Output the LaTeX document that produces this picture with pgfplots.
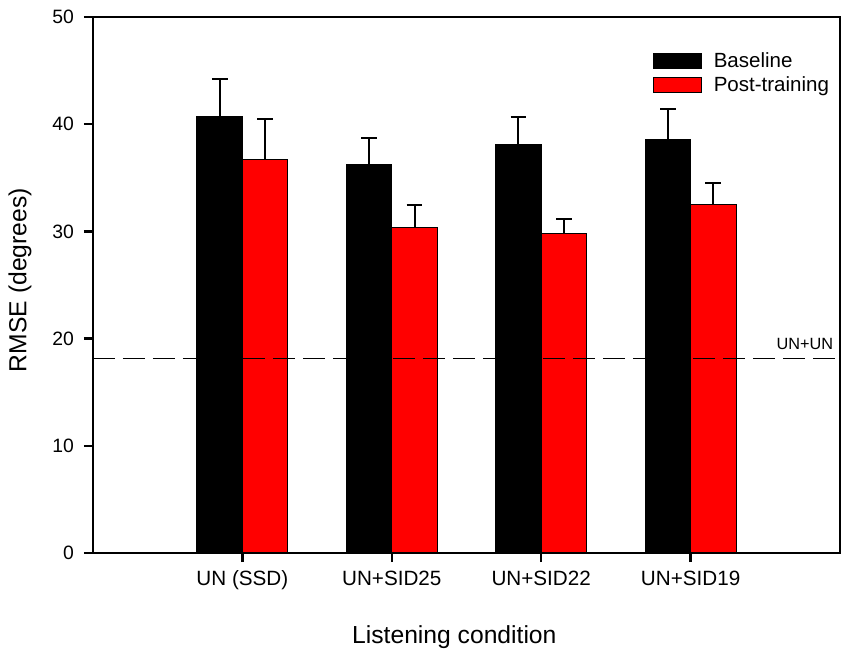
\documentclass[border=0pt]{standalone}
\usepackage{fontspec}
\setmainfont{Liberation Sans}
\usepackage{pgfplots}
\pgfplotsset{compat=1.18}
\begin{document}
\begin{tikzpicture}
\begin{axis}[
  scale only axis,
  width=560.25bp, height=402bp,
  xmin=0, xmax=5, ymin=0, ymax=50,
  clip=false,
  xtick={1,2,3,4},
  xticklabels={UN (SSD),UN+SID25,UN+SID22,UN+SID19},
  ytick={0,10,20,30,40,50},
  tick pos=left,
  tick align=outside,
  major tick length=6.75bp,
  minor tick num=0,
  every tick/.style={line width=1.8bp, black},
  /pgf/number format/assume math mode=true,
  yticklabel style={font=\fontsize{14.5bp}{16bp}\selectfont, xshift=-4bp},
  xticklabel style={font=\fontsize{15.5bp}{18bp}\selectfont, yshift=-3bp},
  xlabel={Listening condition},
  ylabel={RMSE (degrees)},
  label style={font=\fontsize{18.5bp}{22bp}\selectfont},
  xlabel style={at={(axis description cs:0.4837,-0.168)}, anchor=base},
  ylabel style={at={(axis description cs:-0.0977,0.509)}, anchor=center},
  ybar=0pt,
  bar width=34.1bp,
  legend style={draw=none, fill=none, at={(axis description cs:0.749,0.937)}, anchor=north west,
    inner sep=0pt, font=\fontsize{15.4bp}{18bp}\selectfont, row sep=3.2bp,
    nodes={inner xsep=2bp, inner ysep=1pt}},
  legend cell align=left,
  legend image code/.code={\draw[#1, line width=0.75bp] (0bp,-5.6bp) rectangle (36bp,5.6bp);},
  /tikz/every odd column/.append style={column sep=7bp},
  error bars/error bar style={line width=1.5bp, black},
  error bars/error mark options={line width=1.5bp, black, mark size=5.9bp, rotate=90},
]
\addplot[fill=black, draw=black, line width=0.75bp,
  error bars/.cd, y dir=plus, y explicit]
  coordinates {(1,40.7) +- (0,3.5) (2,36.2) +- (0,2.5) (3,38.15) +- (0,2.55) (4,38.55) +- (0,2.85)};
\addlegendentry{Baseline}
\addplot[fill={rgb,255:red,255;green,0;blue,0}, draw=black, line width=0.75bp,
  error bars/.cd, y dir=plus, y explicit]
  coordinates {(1,36.75) +- (0,3.75) (2,30.4) +- (0,2.1) (3,29.8) +- (0,1.4) (4,32.5) +- (0,2.0)};
\addlegendentry{Post-training}
\addplot[sharp plot, black, line width=1.2bp, dash pattern=on 16.5bp off 6bp, forget plot]
  coordinates {(0,18.15) (5,18.15)};
\node[anchor=base east, font=\fontsize{12.2bp}{14bp}\selectfont, inner sep=0pt] at (axis cs:4.955,18.94) {UN+UN};
\draw[line width=2.2bp, line join=miter] (rel axis cs:0,0) rectangle (rel axis cs:1,1);
\end{axis}
\path ([shift={(-69.75bp,-80.25bp)}]current axis.south west) rectangle ([shift={(7.5bp,12.75bp)}]current axis.north east);
\end{tikzpicture}
\end{document}
